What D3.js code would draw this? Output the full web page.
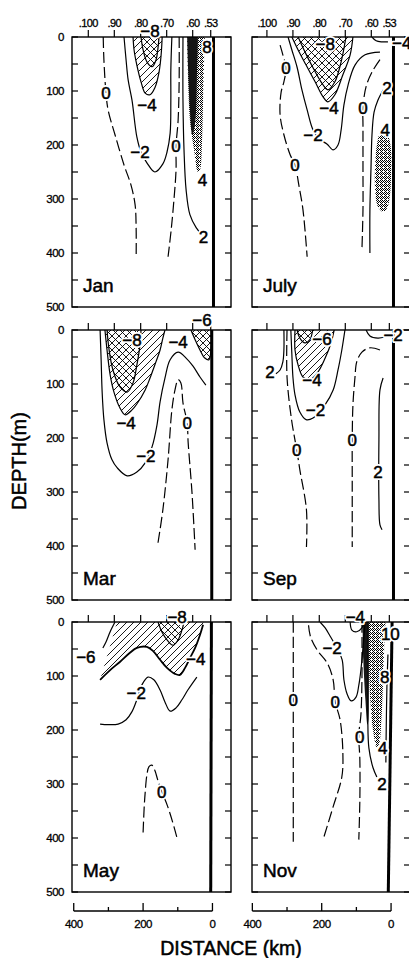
<!DOCTYPE html>
<html><head><meta charset="utf-8">
<script src="https://cdn.jsdelivr.net/npm/d3@7"></script>
<style>body{margin:0;background:#fff}svg{display:block}</style>
</head><body>
<svg id="c" width="409" height="958"></svg>
<script>
// ---------------- DATA (distance km offshore, depth m) ----------------
const months = ["Jan","July","Mar","Sep","May","Nov"];
const stationKm = [358,283,207,132,57,5];
const stationLabels = [".100",".90",".80",".70",".60",".53"];
const depthTicks = [0,100,200,300,400,500];
const depthMinor = [50,150,250,350,450];
const distTicks = [400,300,200,100,0];
const distLabels = [400,200,0];
const coastTopKm = [-3,-7,2,-7,3,-3];
const coastBotKm = [-3,-7,2,-7,5,8];

// Jan
const jan_0a = [[315,0],[313,42],[307,104],[301,135],[281,181],[255,237],[235,274],[223,311],[220,357],[220,407]];
const jan_m2 = [[255,0],[249,43],[243,80],[232,117],[218,185],[206,213],[189,233],[166,250],[143,235],[131,213],[122,178],[120,117],[120,61],[117,0]];
const jan_m4 = [[229,0],[226,24],[218,52],[206,83],[194,104],[180,107],[166,94],[154,65],[148,33],[145,0]];
const jan_m8 = [[206,0],[200,24],[189,46],[174,55],[163,43],[157,20],[154,0]];
const jan_0b = [[96,0],[96,80],[99,154],[105,202],[105,246],[111,301],[119,357],[128,407]];
const jan_2 = [[85,0],[85,117],[82,209],[76,283],[65,329],[47,353],[33,364]];
const jan_4 = [[73,0],[70,80],[65,154],[53,209],[42,250],[36,246],[30,191],[27,117],[24,43],[22,0]];
const jan_8 = [[73,0],[70,61],[65,135],[58,181],[50,160],[45,80],[42,0]];
const janLabels = [[307,104,"0"],[209,213,"−2"],[189,126,"−4"],[180,-12,"−8"],[105,202,"0"],[26,370,"2"],[29,265,"4"],[16,18,"8"]];

// July
const jul_0a = [[320,15],[312,33],[303,57],[309,83],[317,102],[320,144],[309,181],[291,218],[277,237],[266,274],[254,320],[242,407]];
const jul_m2 = [[297,0],[286,24],[271,56],[257,98],[242,135],[225,172],[205,190],[185,198],[167,209],[153,200],[144,172],[136,126],[124,89],[104,52],[75,33],[32,28]];
const jul_m4 = [[286,0],[268,24],[245,52],[219,83],[196,111],[182,120],[162,107],[139,70],[118,33],[110,0]];
const jul_m8 = [[268,0],[248,28],[225,57],[202,83],[182,98],[162,83],[144,46],[130,0]];
const jul_m4b = [[55,0],[43,7],[26,9],[9,9]];
const jul_0b = [[32,42],[55,65],[72,92],[81,130],[81,163],[81,246],[81,320],[84,394]];
const jul_2 = [[23,98],[38,117],[49,139],[55,181],[58,246],[61,320],[61,400]];
const jul_4 = [[23,166],[9,181],[0,209],[0,255],[3,292],[11,316],[23,324],[38,314],[46,283],[46,237],[41,200],[32,176]];
const julLabels = [[303,57,"0"],[277,237,"0"],[225,181,"−2"],[179,131,"−4"],[190,13,"−8"],[-31,11,"−4"],[81,131,"0"],[12,94,"2"],[17,172,"4"]];

// Mar
const mar_m2 = [[324,0],[321,55],[318,116],[313,166],[304,209],[290,240],[275,255],[246,270],[218,263],[194,246],[174,216],[160,176],[151,133],[137,89],[122,55],[99,41],[76,52],[56,67],[36,87],[19,102]];
const mar_m4 = [[310,0],[304,37],[295,83],[284,115],[267,144],[252,157],[232,148],[218,137],[194,111],[180,89],[163,59],[151,37],[143,15],[137,0]];
const mar_m8 = [[304,0],[298,37],[287,74],[267,105],[246,115],[229,98],[218,65],[209,28],[206,0]];
const mar_m4b = [[62,0],[50,18],[36,37],[22,52],[10,55],[4,28],[4,0]];
const mar_0 = [[157,394],[143,333],[128,240],[117,148],[108,111],[99,92],[91,98],[85,135],[73,172],[70,209],[59,301],[50,407]];
const marLabels = [[192,233,"−2"],[249,172,"−4"],[232,18,"−8"],[99,22,"−4"],[30,-18,"−6"],[73,172,"0"]];

// Sep
const sep_2a = [[309,0],[309,37],[312,59],[320,74],[332,81]];
const sep_0a = [[300,0],[300,87],[287,166],[272,222],[263,259],[244,333],[244,402]];
const sep_m2 = [[289,0],[286,46],[283,87],[277,120],[263,152],[245,166],[225,163],[191,139],[167,111],[153,74],[142,37],[133,0]];
const sep_m4 = [[277,0],[277,37],[268,65],[254,87],[234,92],[211,78],[190,52],[173,24],[164,0]];
const sep_m6 = [[271,0],[263,15],[248,24],[234,18],[226,0]];
const sep_m2b = [[72,0],[61,11],[38,15],[18,13]];
const sep_0b = [[32,37],[61,33],[84,41],[99,59],[104,87],[110,140],[112,203],[112,272],[112,402]];
const sep_2b = [[23,89],[32,111],[35,203],[35,314],[32,361],[26,370]];
const sepLabels = [[349,78,"2"],[272,222,"0"],[218,148,"−2"],[228,92,"−4"],[199,17,"−6"],[-6,9,"−2"],[112,203,"0"],[38,262,"2"]];

// May
const may_m4 = [[324,107],[295,89],[267,74],[238,57],[218,48],[189,46],[171,54],[151,70],[131,85],[108,96],[94,98],[79,85],[65,67],[50,48],[36,24],[27,5]];
const may_h4top = [[27,0],[275,0]];
const may_m8 = [[157,0],[146,18],[131,33],[114,43],[99,33],[88,15],[82,0]];
const may_m6 = [[281,0],[295,18],[307,37],[316,48]];
const may_m2 = [[324,189],[301,190],[272,189],[249,181],[232,166],[218,144],[203,116],[186,102],[169,107],[151,126],[137,148],[122,165],[105,159],[88,144],[71,126],[45,102]];
const may_0 = [[200,390],[197,345],[194,316],[189,283],[183,268],[175,265],[166,275],[158,292],[146,314],[130,340],[115,370],[103,398]];
const mayLabels = [[365,65,"−6"],[102,-9,"−8"],[48,68,"−4"],[220,131,"−2"],[146,314,"0"]];

// Nov
const nov_0a = [[282,0],[282,144],[282,407]];
const nov_0b = [[238,6],[232,28],[213,52],[184,76],[167,107],[161,148],[147,181],[139,242],[142,287],[167,342],[196,403]];
const nov_m2 = [[205,0],[190,11],[176,26],[156,48],[141,70],[136,107],[127,133],[115,146],[101,139],[93,117],[87,89],[81,48],[75,2]];
const nov_m4 = [[118,0],[113,15],[99,18],[84,11],[78,0]];
const nov_0c = [[84,0],[84,107],[87,172],[93,209],[90,255],[90,329],[93,403]];
const nov_2 = [[66,0],[66,107],[67,181],[64,233],[52,270],[41,287]];
const nov_2b = [[9,60],[12,120],[14,200],[15,260]];
const nov_4 = [[66,0],[64,70],[60,144],[52,200],[41,232],[34,225],[28,181],[24,126],[20,52],[16,0]];
const nov_dark = [[82,0],[80,70],[74,144],[68,190],[65,180],[65,120],[66,60],[66,0]];
const novLabels = [[282,144,"0"],[161,148,"0"],[170,48,"−2"],[103,-9,"−4"],[90,213,"0"],[26,300,"2"],[24,233,"4"],[18,102,"8"],[2,22,"10"]];

// ---------------- PANEL TABLE (built from arrays) ----------------
const panels = [
  {lines:[[jan_0a,0],[jan_m2,-2],[jan_m4,-4],[jan_m8,-8],[jan_0b,0],[jan_2,2]],
   fills:[[jan_m4,"hatch"],[jan_m8,"cross"],[jan_4,"dots"],[jan_8,"dark"]], labels:janLabels},
  {lines:[[jul_0a,0],[jul_m2,-2],[jul_m4,-4],[jul_m8,-8],[jul_m4b,-4],[jul_0b,0],[jul_2,2]],
   fills:[[jul_m4,"hatch"],[jul_m8,"cross"],[jul_4,"dots",true]], labels:julLabels},
  {lines:[[mar_m2,-2],[mar_m4,-4],[mar_m8,-8],[mar_m4b,-4],[mar_0,0]],
   fills:[[mar_m4,"hatch"],[mar_m8,"cross"],[mar_m4b,"hatch"],[mar_m4b,"cross"]], labels:marLabels},
  {lines:[[sep_2a,2],[sep_0a,0],[sep_m2,-2],[sep_m4,-4],[sep_m6,-6],[sep_m2b,-2],[sep_0b,0],[sep_2b,2]],
   fills:[[sep_m4,"hatch"],[sep_m6,"cross"]], labels:sepLabels},
  {lines:[[may_m4,-4],[may_m8,-8],[may_m6,-6],[may_m2,-2],[may_0,0]],
   fills:[[may_m4.concat(may_h4top),"hatch"],[may_m8,"cross"]], labels:mayLabels},
  {lines:[[nov_0a,0],[nov_0b,0],[nov_m2,-2],[nov_m4,-4],[nov_0c,0],[nov_2,2],[nov_2b,2]],
   fills:[[nov_4,"dots"],[nov_dark,"dark"]], labels:novLabels}
];

// ---------------- LAYOUT ----------------
const FONT = "'Liberation Sans', Arial, Helvetica, sans-serif";
const svg = d3.select("#c");
const colX0 = [72, 252], colW = [159, 158], colDLeft = [405, 401];
const kmPerPx = 2.8835;
const rowTop = [37, 330, 622], panelH = 270;
const xScaleFor = c => d3.scaleLinear().domain([colDLeft[c], colDLeft[c] - colW[c]*kmPerPx]).range([colX0[c], colX0[c]+colW[c]]);
const yScaleFor = r => d3.scaleLinear().domain([0, 500]).range([rowTop[r], rowTop[r]+panelH]);

// patterns
const defs = svg.append("defs");
const hp = defs.append("pattern").attr("id","hatch").attr("patternUnits","userSpaceOnUse").attr("width",7).attr("height",7);
hp.append("path").attr("d","M-2,2 L2,-2 M0,7 L7,0 M5,9 L9,5").attr("stroke","#000").attr("stroke-width",0.9);
const cp = defs.append("pattern").attr("id","cross").attr("patternUnits","userSpaceOnUse").attr("width",7).attr("height",7);
cp.append("path").attr("d","M-2,5 L2,9 M0,0 L7,7 M5,-2 L9,2").attr("stroke","#000").attr("stroke-width",0.9);
const dp = defs.append("pattern").attr("id","dots").attr("patternUnits","userSpaceOnUse").attr("width",4).attr("height",4);
[[0,0],[2,0],[1,1],[3,1],[0,2],[2,2],[1,3]].forEach(q =>
  dp.append("rect").attr("x",q[0]).attr("y",q[1]).attr("width",1).attr("height",1).attr("fill","#000"));
const fillFor = {hatch:"url(#hatch)", cross:"url(#cross)", dots:"url(#dots)", dark:"#151515"};

function boldText(sel, x, y, txt, size, anchor, halo) {
  if (halo) {
    sel.append("text").attr("x", x).attr("y", y).attr("dy", "0.36em").attr("text-anchor", anchor)
      .attr("font-family", FONT).attr("font-size", size).attr("fill", "#fff")
      .attr("stroke", "#fff").attr("stroke-width", 4).attr("stroke-linejoin", "round").text(txt);
  }
  return sel.append("text").attr("x", x).attr("y", y).attr("dy", "0.36em").attr("text-anchor", anchor)
    .attr("font-family", FONT).attr("font-size", size).attr("fill", "#000")
    .attr("stroke", "#000").attr("stroke-width", 0.5).text(txt);
}

panels.forEach((p, i) => {
  const c = i % 2, r = Math.floor(i / 2);
  const x = xScaleFor(c), y = yScaleFor(r);
  const x0 = colX0[c], x1 = colX0[c] + colW[c], y0 = rowTop[r], y1 = rowTop[r] + panelH;
  const g = svg.append("g");
  const clipId = "clip" + i;
  defs.append("clipPath").attr("id", clipId).append("rect")
    .attr("x", x0).attr("y", y0).attr("width", x1 - x0).attr("height", y1 - y0);
  const inner = g.append("g").attr("clip-path", `url(#${clipId})`);

  const lineGen = d3.line().x(d => x(d[0])).y(d => y(d[1])).curve(d3.curveCatmullRom.alpha(0.5));
  const loopGen = d3.line().x(d => x(d[0])).y(d => y(d[1])).curve(d3.curveCatmullRomClosed.alpha(0.5));

  p.fills.forEach(f => {
    const dstr = f[2] ? loopGen(f[0]) : lineGen(f[0]) + "Z";
    inner.append("path").attr("d", dstr).attr("fill", fillFor[f[1]]).attr("stroke", "none");
  });
  inner.append("line")
    .attr("x1", x(coastTopKm[i])).attr("y1", y0).attr("x2", x(coastBotKm[i])).attr("y2", y1)
    .attr("stroke", "#000").attr("stroke-width", 3);
  p.lines.forEach(l => {
    inner.append("path").attr("d", lineGen(l[0])).attr("fill", "none")
      .attr("stroke", "#000").attr("stroke-width", l[1] === -4 && i === 4 ? 1.8 : 1.2)
      .attr("stroke-dasharray", l[1] === 0 ? "11,4" : null);
  });
  g.append("rect").attr("x", x0).attr("y", y0).attr("width", x1 - x0).attr("height", y1 - y0)
    .attr("fill", "none").attr("stroke", "#000").attr("stroke-width", 1.4);
  depthTicks.concat(depthMinor).forEach(dv => {
    g.append("line").attr("x1", x0).attr("x2", x0 + 6).attr("y1", y(dv)).attr("y2", y(dv)).attr("stroke", "#000").attr("stroke-width", 1.2);
    g.append("line").attr("x1", x1 - 6).attr("x2", x1).attr("y1", y(dv)).attr("y2", y(dv)).attr("stroke", "#000").attr("stroke-width", 1.2);
  });
  stationKm.forEach((s, k) => {
    g.append("line").attr("x1", x(s)).attr("x2", x(s)).attr("y1", y0).attr("y2", y0 - 7).attr("stroke", "#000").attr("stroke-width", 1.2);
    if (r === 0) {
      g.append("text").attr("x", x(s)).attr("y", y0 - 10).attr("text-anchor", "middle")
        .attr("font-family", FONT).attr("font-size", 11).attr("letter-spacing", -0.6)
        .attr("stroke", "#000").attr("stroke-width", 0.3).text(stationLabels[k]);
    }
  });
  if (c === 0) {
    depthTicks.forEach(dv => {
      g.append("text").attr("x", 64).attr("y", y(dv)).attr("dy", "0.36em").attr("text-anchor", "end")
        .attr("font-family", FONT).attr("font-size", 11.5).attr("letter-spacing", -0.5)
        .attr("stroke", "#000").attr("stroke-width", 0.3).text(dv);
    });
  }
  p.labels.forEach(lb => boldText(g, x(lb[0]), y(lb[1]), lb[2], 17, "middle", true));
  boldText(g, x0 + 11, y0 + 248, months[i], 19, "start", true);

  if (r === 2) {
    const ay = y1 + 19;
    g.append("line").attr("x1", x(400)).attr("x2", x(0)).attr("y1", ay).attr("y2", ay).attr("stroke", "#000").attr("stroke-width", 1.3);
    distTicks.forEach(t => {
      const len = distLabels.includes(t) ? 8 : 4;
      g.append("line").attr("x1", x(t)).attr("x2", x(t)).attr("y1", ay).attr("y2", ay - len).attr("stroke", "#000").attr("stroke-width", 1.3);
    });
    distLabels.forEach(t => {
      g.append("text").attr("x", x(t)).attr("y", ay + 17).attr("text-anchor", "middle")
        .attr("font-family", FONT).attr("font-size", 11.5).attr("letter-spacing", -0.5)
        .attr("stroke", "#000").attr("stroke-width", 0.3).text(t);
    });
  }
});

svg.append("text").attr("transform", "translate(26,461) rotate(-90)").attr("text-anchor", "middle")
  .attr("font-family", FONT).attr("font-size", 20).attr("stroke", "#000").attr("stroke-width", 0.5).text("DEPTH(m)");
svg.append("text").attr("x", 231).attr("y", 955).attr("text-anchor", "middle")
  .attr("font-family", FONT).attr("font-size", 19.5).attr("stroke", "#000").attr("stroke-width", 0.5).text("DISTANCE (km)");
</script>
</body></html>
